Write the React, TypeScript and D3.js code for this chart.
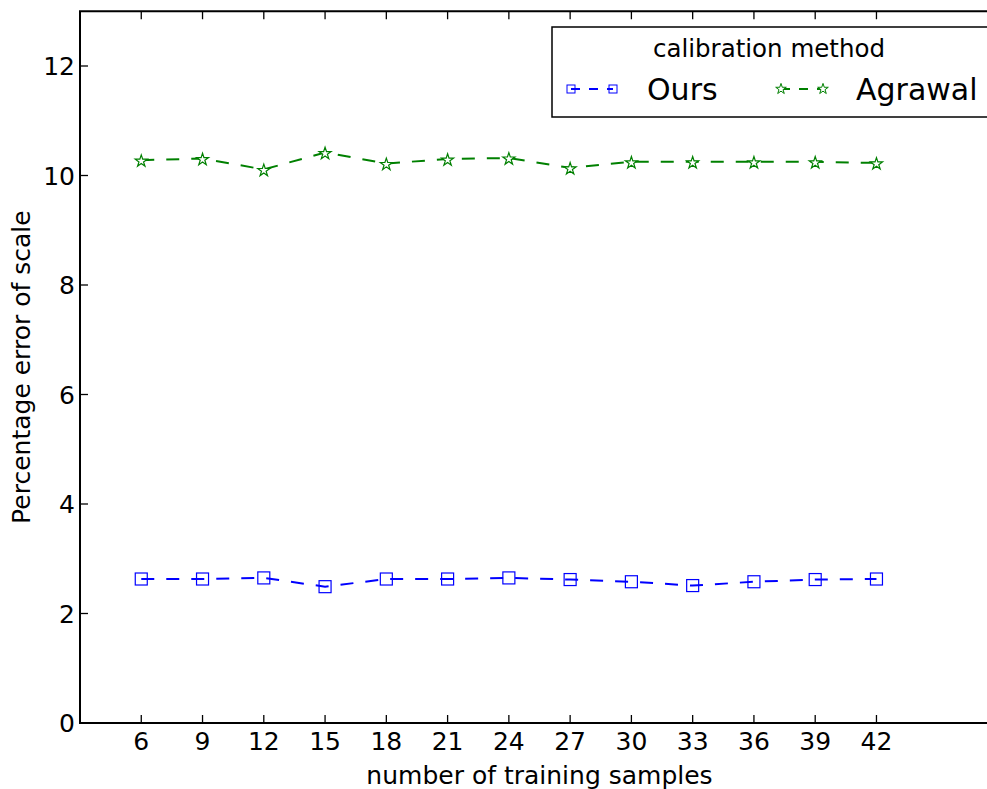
import React, { useEffect, useRef } from 'react';
import * as d3 from 'd3';

const samples = [6, 9, 12, 15, 18, 21, 24, 27, 30, 33, 36, 39, 42];
const oursErr = [2.63, 2.63, 2.65, 2.49, 2.63, 2.63, 2.65, 2.62, 2.58, 2.51, 2.58, 2.62, 2.63];
const agrawalErr = [10.28, 10.31, 10.11, 10.42, 10.22, 10.30, 10.32, 10.14, 10.25, 10.25, 10.25, 10.25, 10.23];
const yTicks = [0, 2, 4, 6, 8, 10, 12];
const seriesNames = ['Ours', 'Agrawal'];

const W = 987;
const H = 789;
const FONT = 'DejaVu Sans, sans-serif';

const App = () => {
  const ref = useRef<SVGSVGElement>(null);

  useEffect(() => {
    const svg = d3.select(ref.current);
    svg.selectAll('*').remove();

    const left = 80, right = 999, top = 11.25, bottom = 723;
    const x = d3.scaleLinear().domain([3, 48]).range([left, right]);
    const y = d3.scaleLinear().domain([0, 13]).range([bottom, top]);

    const g = svg.append('g');

    // frame
    g.append('rect')
      .attr('x', left).attr('y', top)
      .attr('width', right - left).attr('height', bottom - top)
      .attr('fill', 'none').attr('stroke', '#000').attr('stroke-width', 2);

    // x ticks (inward, bottom and top)
    samples.forEach(s => {
      g.append('line').attr('x1', x(s)).attr('x2', x(s)).attr('y1', bottom).attr('y2', bottom - 8)
        .attr('stroke', '#000').attr('stroke-width', 1.3);
      g.append('line').attr('x1', x(s)).attr('x2', x(s)).attr('y1', top).attr('y2', top + 8)
        .attr('stroke', '#000').attr('stroke-width', 1.3);
      g.append('text').attr('x', x(s)).attr('y', bottom + 27)
        .attr('text-anchor', 'middle').style('font-family', FONT).style('font-size', '25px')
        .text(String(s));
    });

    yTicks.forEach(t => {
      g.append('line').attr('x1', left).attr('x2', left + 8).attr('y1', y(t)).attr('y2', y(t))
        .attr('stroke', '#000').attr('stroke-width', 1.3);
      g.append('text').attr('x', left - 5).attr('y', y(t)).attr('dy', '0.36em')
        .attr('text-anchor', 'end').style('font-family', FONT).style('font-size', '25px')
        .text(String(t));
    });

    // axis labels
    g.append('text').attr('x', (left + right) / 2).attr('y', 784)
      .attr('text-anchor', 'middle').style('font-family', FONT).style('font-size', '25px')
      .text('number of training samples');
    g.append('text').attr('transform', `translate(30, ${(top + bottom) / 2}) rotate(-90)`)
      .attr('text-anchor', 'middle').style('font-family', FONT).style('font-size', '25px')
      .text('Percentage error of scale');

    const line = d3.line<number>().x((d, i) => x(samples[i])).y(d => y(d));
    const star = d3.symbol().type(d3.symbolStar);

    const drawSeries = (vals: number[], color: string, kind: string) => {
      g.append('path').datum(vals).attr('d', line)
        .attr('fill', 'none').attr('stroke', color).attr('stroke-width', 2)
        .attr('stroke-dasharray', '13,12');
      vals.forEach((v, i) => {
        if (kind === 'square') {
          g.append('rect').attr('x', x(samples[i]) - 6).attr('y', y(v) - 6)
            .attr('width', 12).attr('height', 12)
            .attr('fill', 'none').attr('stroke', color).attr('stroke-width', 1.2);
        } else {
          g.append('path').attr('d', star.size(45)())
            .attr('transform', `translate(${x(samples[i])}, ${y(v) + 1})`)
            .attr('fill', 'white').attr('stroke', color).attr('stroke-width', 1.2);
        }
      });
    };

    drawSeries(oursErr, '#0000ff', 'square');
    drawSeries(agrawalErr, '#008000', 'star');

    // legend
    const lg = g.append('g');
    lg.append('rect').attr('x', 552).attr('y', 27).attr('width', 438).attr('height', 90)
      .attr('fill', 'white').attr('stroke', '#000').attr('stroke-width', 1.5);
    lg.append('text').attr('x', 769).attr('y', 57).attr('text-anchor', 'middle')
      .style('font-family', FONT).style('font-size', '24.5px').text('calibration method');

    const entries = [
      { name: seriesNames[0], color: '#0000ff', kind: 'square', x0: 571, tx: 647 },
      { name: seriesNames[1], color: '#008000', kind: 'star', x0: 781, tx: 856 },
    ];
    entries.forEach(e => {
      const ly = 89;
      lg.append('line').attr('x1', e.x0).attr('x2', e.x0 + 42).attr('y1', ly).attr('y2', ly)
        .attr('stroke', e.color).attr('stroke-width', 2).attr('stroke-dasharray', '9,9');
      [e.x0, e.x0 + 42].forEach(mx => {
        if (e.kind === 'square') {
          lg.append('rect').attr('x', mx - 4).attr('y', ly - 4).attr('width', 8).attr('height', 8)
            .attr('fill', 'none').attr('stroke', e.color).attr('stroke-width', 1);
        } else {
          lg.append('path').attr('d', star.size(35)())
            .attr('transform', `translate(${mx}, ${ly})`)
            .attr('fill', 'white').attr('stroke', e.color).attr('stroke-width', 1);
        }
      });
      lg.append('text').attr('x', e.tx).attr('y', 100)
        .style('font-family', FONT).style('font-size', '30px').text(e.name);
    });
  }, []);

  return (
    <>
      <style>{'body{margin:0}'}</style>
      <svg ref={ref} width={W} height={H} style={{ display: 'block', background: 'white' }}></svg>
    </>
  );
};

export default App;
